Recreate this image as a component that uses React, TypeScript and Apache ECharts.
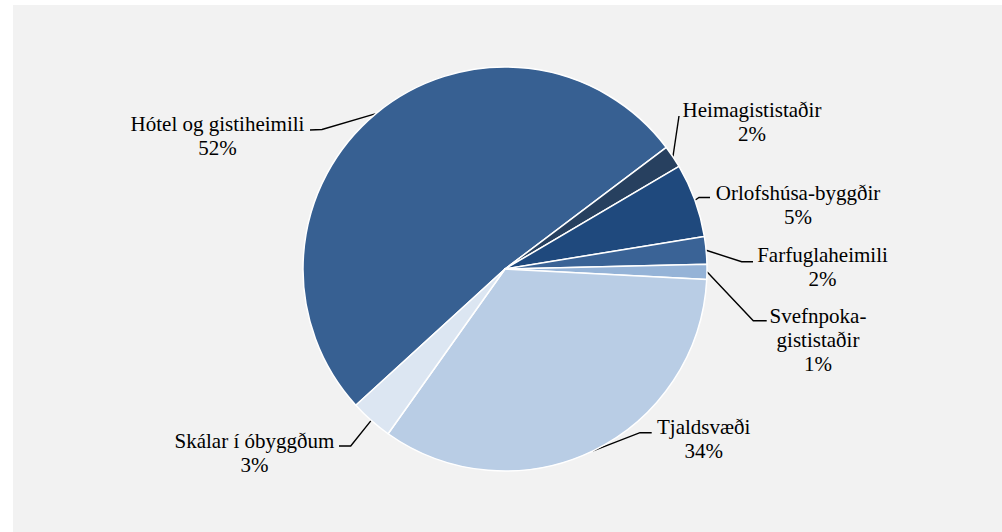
import React, { useEffect, useRef } from "react";
import * as echarts from "echarts";

// Categories in drawing order (clockwise), as printed on the chart
const categories = [
  "Hótel og gistiheimili",
  "Heimagististaðir",
  "Orlofshúsa-byggðir",
  "Farfuglaheimili",
  "Svefnpoka-\ngististaðir",
  "Tjaldsvæði",
  "Skálar í óbyggðum",
];
// Slice shares (%)
const shares = [51.5, 1.8, 5.9, 2.2, 1.2, 34.0, 3.4];
// Percentages printed in the labels
const percentLabels = [52, 2, 5, 2, 1, 34, 3];

const colors = ["#376092", "#27405f", "#1f497d", "#3a6396", "#95b3d7", "#b9cde5", "#dce6f2"];

// Label layout (label block centre, leader-line knee and end), in pixels
const labelCenters: [number, number][] = [
  [217.5, 136],
  [752, 121.5],
  [798, 204.7],
  [822.5, 267],
  [818, 340],
  [703.7, 439],
  [254.4, 452.5],
];
const leaderKnees: [number, number][] = [
  [322, 129.5],
  [679, 116],
  [699, 197.5],
  [741.7, 261.7],
  [753.3, 320.7],
  [640, 432.7],
  [350.7, 446],
];
const leaderEnds: [number, number][] = [
  [310, 130],
  [679, 116],
  [710, 197.5],
  [753, 261.7],
  [766.7, 320.7],
  [651.7, 432.7],
  [339, 446],
];

const SERIF = "Times New Roman";

export default function App() {
  const ref = useRef<HTMLDivElement>(null);
  useEffect(() => {
    document.body.style.margin = "0";
    if (!ref.current) return;
    const chart = echarts.init(ref.current, undefined, { renderer: "svg" });
    chart.setOption({
      animation: false,
      backgroundColor: "#ffffff",
      graphic: [
        {
          type: "rect",
          z: -10,
          silent: true,
          shape: { x: 13, y: 5, width: 989, height: 527 },
          style: { fill: "#f2f2f2" },
        },
      ],
      series: [
        {
          type: "pie",
          center: [505, 269],
          radius: 202,
          startAngle: 222.4,
          clockwise: true,
          avoidLabelOverlap: false,
          itemStyle: { borderColor: "#ffffff", borderWidth: 1.5 },
          label: {
            show: true,
            position: "outside",
            fontFamily: SERIF,
            fontSize: 21,
            lineHeight: 24,
            color: "#000000",
            align: "center",
            formatter: (p: any) => p.name + "\n" + percentLabels[p.dataIndex] + "%",
          },
          labelLine: {
            show: true,
            length: 15,
            length2: 10,
            lineStyle: { color: "#000000", width: 1.4 },
          },
          labelLayout: (params: any) => {
            const i = params.dataIndex;
            const start = params.labelLinePoints ? params.labelLinePoints[0] : leaderKnees[i];
            return {
              x: labelCenters[i][0],
              y: labelCenters[i][1],
              align: "center",
              verticalAlign: "middle",
              labelLinePoints: [start, leaderKnees[i], leaderEnds[i]],
            };
          },
          data: categories.map((name, i) => ({
            name,
            value: shares[i],
            itemStyle: { color: colors[i] },
          })),
        },
      ],
    });
    return () => chart.dispose();
  }, []);
  return <div ref={ref} style={{ width: 1002, height: 532 }} />;
}
